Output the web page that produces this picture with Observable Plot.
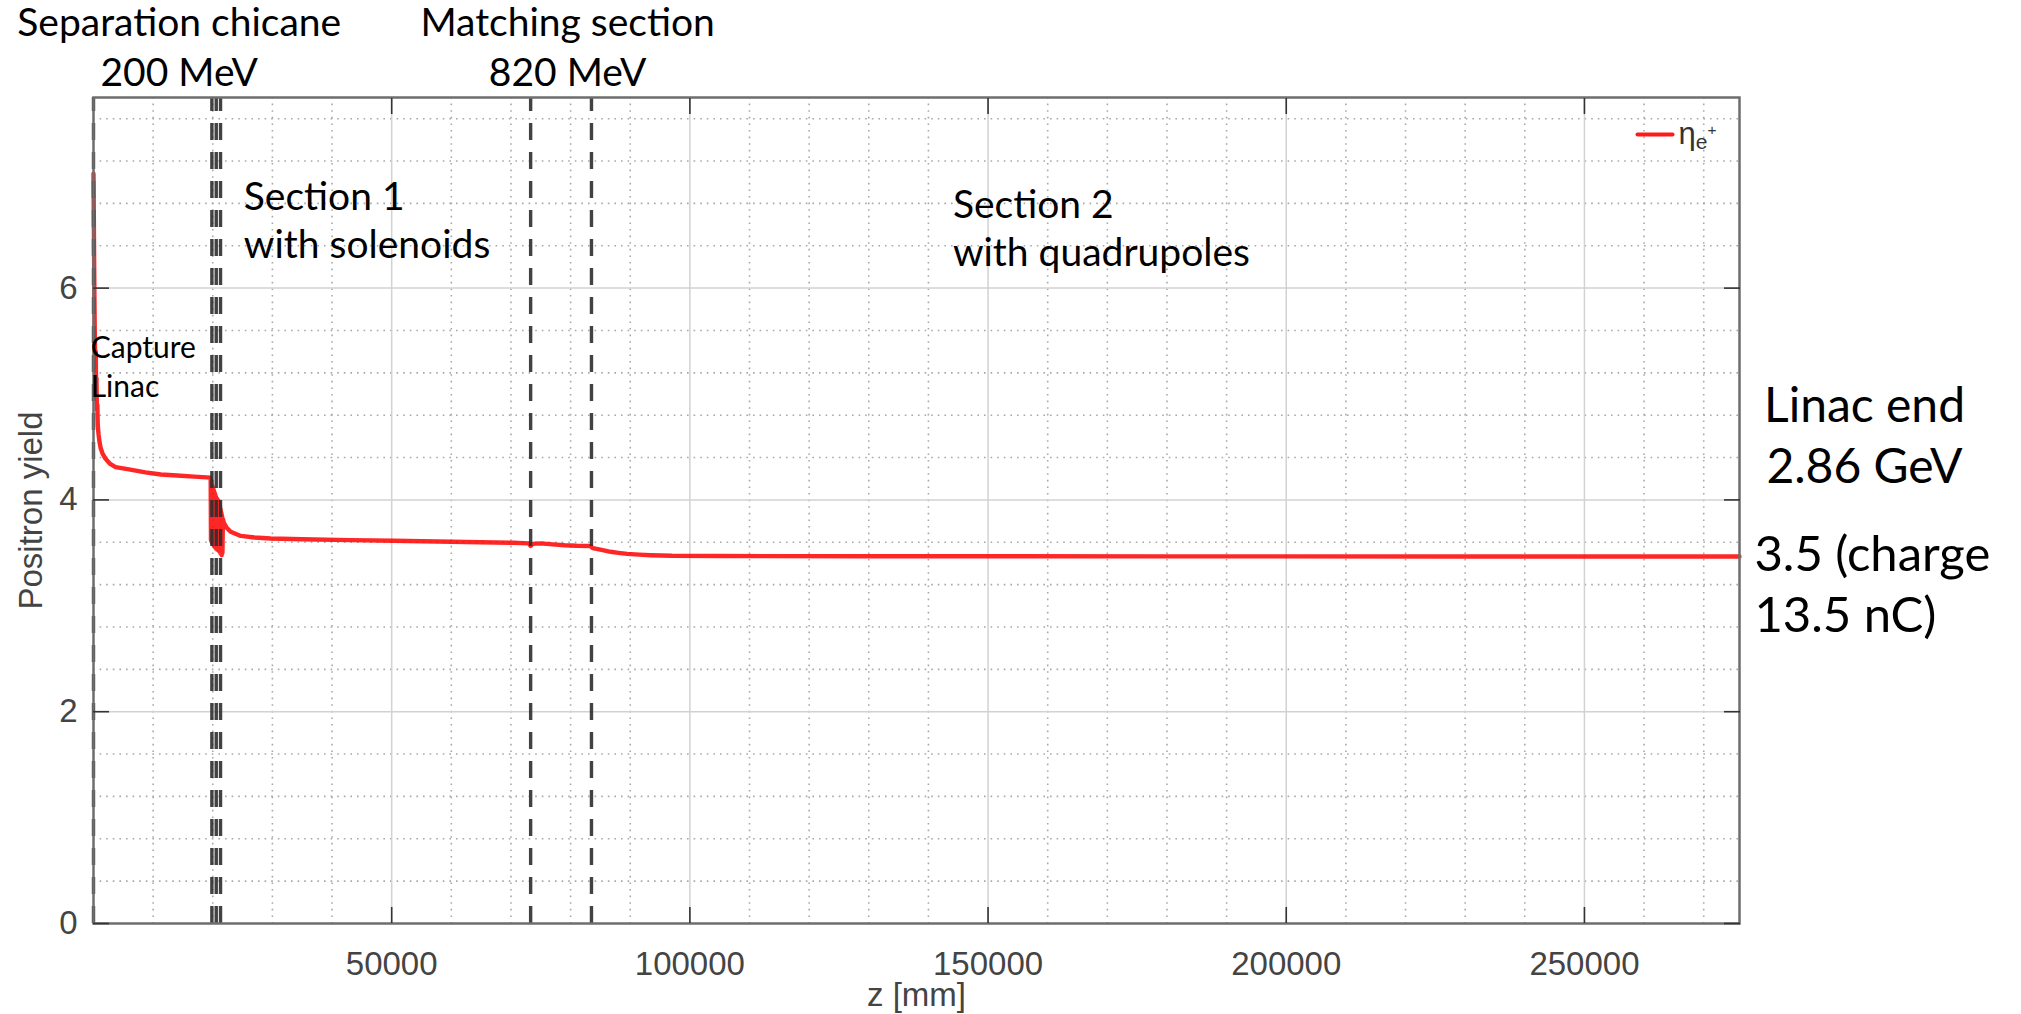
<!DOCTYPE html>
<html>
<head>
<meta charset="utf-8">
<script src="https://cdn.jsdelivr.net/npm/d3@7"></script>
<script src="https://cdn.jsdelivr.net/npm/@observablehq/plot@0.6"></script>
<style>
html, body { margin: 0; padding: 0; background: #fff; overflow: hidden; }
</style>
</head>
<body>
<div id="chart"></div>
<script>
// ---- Data ----
const zMm = [0,50,100,150,200,260,320,380,440,500,560,640,720,850,1000,1200,1500,2000,2800,3700,5700,8700,11300,14000,16900,19650,
  19700,19760,19820,19880,19940,20000,20060,20120,20180,20240,20300,20360,20420,20480,20540,20600,20660,20720,20780,20840,20900,20960,21020,21080,21140,21200,21260,21320,21380,21440,21500,21560,21620,21700,
  21880,22300,23000,24700,27000,29700,35000,43000,50300,60000,70400,73000,73300,73600,75000,77000,79000,81000,83300,83700,85000,86700,88000,89500,91500,93400,97000,105000,130000,180000,230000,276000];
const positronYield = [7.08,6.7,6.3,5.95,5.65,5.4,5.2,5.4,5.0,5.15,4.85,4.9,4.7,4.62,4.55,4.49,4.44,4.39,4.34,4.31,4.29,4.26,4.24,4.23,4.22,4.21,
  3.62,4.18,3.60,4.14,3.61,4.12,3.58,4.10,3.57,4.08,3.56,4.06,3.55,4.04,3.54,4.02,3.54,4.01,3.53,4.00,3.53,3.99,3.52,3.97,3.51,3.94,3.50,3.91,3.49,3.88,3.48,3.85,3.50,3.82,
  3.78,3.74,3.70,3.66,3.645,3.635,3.628,3.62,3.615,3.605,3.595,3.59,3.565,3.585,3.59,3.58,3.572,3.567,3.565,3.545,3.53,3.51,3.50,3.49,3.483,3.478,3.472,3.47,3.468,3.467,3.466,3.466];

const sectionBoundaries = [0, 19850, 20580, 21300, 73300, 83500];   // dashed vertical lines (z, mm)
const xDomain = [0, 276000];
const yDomain = [0, 7.8];
const xTicks = [50000, 100000, 150000, 200000, 250000];
const yTicks = [0, 2, 4, 6];
const xMinorTicks = [10000,20000,30000,40000,60000,70000,80000,90000,110000,120000,130000,140000,160000,170000,180000,190000,210000,220000,230000,240000,260000,270000];
const yMinorTicks = [0.4,0.8,1.2,1.6,2.4,2.8,3.2,3.6,4.4,4.8,5.2,5.6,6.4,6.8,7.2,7.6];

const xLabel = "z [mm]";
const yLabel = "Positron yield";
const legendLabel = "ηe+";

// annotations (text, anchored at data coordinates z [mm], yield; last line baseline)
const topLabels = ["Separation chicane\n200 MeV", "Matching section\n820 MeV"];
const topLabelZ = [14370, 79500];
const topLabelYield = [7.913, 7.913];

const sectionLabels = ["Section 1\nwith solenoids", "Section 2\nwith quadrupoles"];
const sectionLabelZ = [25200, 144100];
const sectionLabelYield = [6.28, 6.213];

const captureLabel = ["Capture\nLinac"];
const captureLabelZ = [-470];
const captureLabelYield = [4.976];

const endLabel = ["Linac end\n2.86 GeV"];
const endLabelZ = [296960];
const endLabelYield = [4.155];

const chargeLabel = ["3.5 (charge\n13.5 nC)"];
const chargeLabelZ = [278500];
const chargeLabelYield = [2.748];

const legendLineZ = [258900, 264770];
const legendLineYield = [7.45, 7.45];
const legendTextZ = [265770];
const legendTextYield = [7.365];

// ---- Build tables ----
const curve = zMm.map((z, i) => ({z, v: positronYield[i]}));
const mk = (texts, zs, vs) => texts.map((t, i) => ({t, z: zs[i], v: vs[i]}));
const legendLine = legendLineZ.map((z, i) => ({z, v: legendLineYield[i]}));

const annoFont = "Lato, 'Open Sans', sans-serif";
const axisFont = "'Liberation Sans', Arial, sans-serif";

const chart = Plot.plot({
  width: 2021,
  height: 1014,
  marginLeft: 93,
  marginRight: 282,
  marginTop: 97,
  marginBottom: 91,
  style: {background: "#fff", fontFamily: axisFont, overflow: "visible"},
  x: {domain: xDomain},
  y: {domain: yDomain},
  marks: [
    // minor dotted grid
    Plot.ruleX(xMinorTicks, {stroke: "#a8a8a8", strokeWidth: 1.6, strokeDasharray: "1.6,5"}),
    Plot.ruleY(yMinorTicks, {stroke: "#a8a8a8", strokeWidth: 1.6, strokeDasharray: "1.6,5"}),
    // major solid grid
    Plot.ruleX(xTicks, {stroke: "#d2d2d2", strokeWidth: 1.5}),
    Plot.ruleY(yTicks.filter(d => d > 0), {stroke: "#d2d2d2", strokeWidth: 1.5}),
    // yield curve
    Plot.line(curve, {x: "z", y: "v", stroke: "#ff0000", strokeWidth: 4.4, strokeOpacity: 0.85}),
    // dashed section boundaries
    Plot.ruleX(sectionBoundaries, {x: d => d, y1: () => yDomain[0], y2: () => yDomain[1],
      stroke: "#2e2e2e", strokeWidth: 3.4, strokeOpacity: 0.9, strokeDasharray: "17,12"}),
    // frame
    Plot.frame({stroke: "#6e6e6e", strokeWidth: 2.5}),
    // axes: labels
    Plot.axisX({anchor: "bottom", ticks: xTicks, tickSize: 0, tickPadding: 28, tickFormat: d3.format("d"),
      fontSize: 33, fill: "#444", label: xLabel, labelAnchor: "center", labelArrow: "none", labelOffset: 82}),
    Plot.axisY({anchor: "left", ticks: yTicks, tickSize: 0, tickPadding: 16, tickFormat: d3.format("d"),
      fontSize: 33, fill: "#444", label: yLabel, labelAnchor: "center", labelArrow: "none", labelOffset: 75}),
    // axes: inward ticks on all four sides
    Plot.axisX({anchor: "bottom", ticks: xTicks, tickSize: -16, tickFormat: () => "", label: null, stroke: "#333", strokeWidth: 1.6}),
    Plot.axisX({anchor: "top", ticks: xTicks, tickSize: -16, tickFormat: () => "", label: null, stroke: "#333", strokeWidth: 1.6}),
    Plot.axisY({anchor: "left", ticks: yTicks, tickSize: -16, tickFormat: () => "", label: null, stroke: "#333", strokeWidth: 1.6}),
    Plot.axisY({anchor: "right", ticks: yTicks, tickSize: -16, tickFormat: () => "", label: null, stroke: "#333", strokeWidth: 1.6}),
    // legend
    Plot.line(legendLine, {x: "z", y: "v", stroke: "#ff0000", strokeWidth: 4, strokeOpacity: 0.9}),
    Plot.text([legendLabel], {x: () => legendTextZ[0], y: () => legendTextYield[0], text: d => d,
      textAnchor: "start", lineAnchor: "bottom", fontSize: 31, fill: "#333", fontFamily: axisFont}),
    // annotations
    Plot.text(mk(topLabels, topLabelZ, topLabelYield), {x: "z", y: "v", text: "t", textAnchor: "middle",
      lineAnchor: "bottom", fontSize: 39, lineHeight: 1.28, fill: "#000", fontFamily: annoFont}),
    Plot.text(mk(sectionLabels, sectionLabelZ, sectionLabelYield), {x: "z", y: "v", text: "t", textAnchor: "start",
      lineAnchor: "bottom", fontSize: 39, lineHeight: 1.23, fill: "#000", fontFamily: annoFont}),
    Plot.text(mk(captureLabel, captureLabelZ, captureLabelYield), {x: "z", y: "v", text: "t", textAnchor: "start",
      lineAnchor: "bottom", fontSize: 30, lineHeight: 1.27, fill: "#000", fontFamily: annoFont}),
    Plot.text(mk(endLabel, endLabelZ, endLabelYield), {x: "z", y: "v", text: "t", textAnchor: "middle",
      lineAnchor: "bottom", fontSize: 48, lineHeight: 1.29, fill: "#000", fontFamily: annoFont}),
    Plot.text(mk(chargeLabel, chargeLabelZ, chargeLabelYield), {x: "z", y: "v", text: "t", textAnchor: "start",
      lineAnchor: "bottom", fontSize: 49, lineHeight: 1.25, fill: "#000", fontFamily: annoFont})
  ]
});

// Legend label: η with subscript e and superscript +
d3.select(chart).selectAll("text").filter(function() { return this.textContent === legendLabel; }).each(function() {
  const t = d3.select(this);
  t.text("");
  t.append("tspan").text("η");
  t.append("tspan").attr("font-size", "0.68em").attr("dy", "0.28em").text("e");
  t.append("tspan").attr("font-size", "0.5em").attr("dy", "-0.95em").text("+");
});

document.getElementById("chart").appendChild(chart);
</script>
</body>
</html>
